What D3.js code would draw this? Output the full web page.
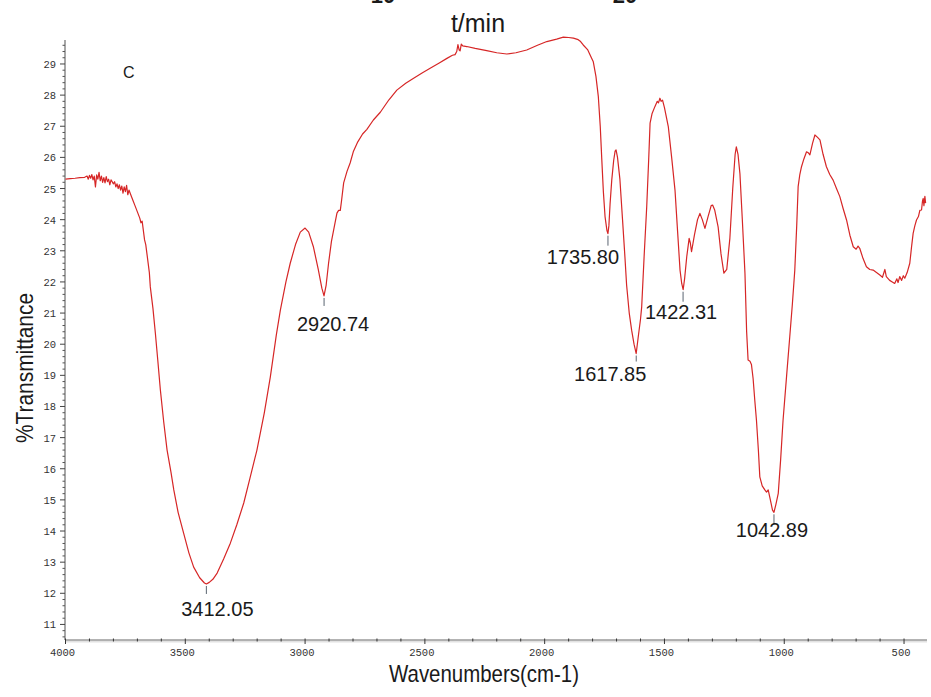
<!DOCTYPE html>
<html>
<head>
<meta charset="utf-8">
<script src="https://cdn.jsdelivr.net/npm/d3@7"></script>
<style>
  html, body { margin: 0; padding: 0; background: #fff; }
  svg { display: block; }
</style>
</head>
<body>
<svg id="chart" width="931" height="697"></svg>
<script>
// spectrum: wavenumber (cm-1) and %T
const wavenumbers = [
  4000, 3980, 3960, 3940, 3920, 3910, 3905, 3900, 3895, 3890, 3885, 3880, 3875, 3870, 3865, 3860,
  3855, 3850, 3845, 3840, 3835, 3830, 3825, 3820, 3815, 3810, 3800, 3795, 3790, 3785, 3780, 3775,
  3770, 3765, 3760, 3755, 3750, 3745, 3740, 3735, 3730, 3720, 3710, 3700, 3690, 3685, 3680, 3670,
  3665, 3660, 3650, 3646, 3635, 3625, 3615, 3604, 3590, 3576, 3560, 3548, 3530, 3507, 3485, 3465,
  3440, 3420, 3412, 3400, 3385, 3367, 3340, 3312, 3285, 3256, 3230, 3201, 3170, 3145, 3120, 3103,
  3080, 3062, 3040, 3020, 3000, 2985, 2965, 2945, 2930, 2921, 2912, 2902, 2890, 2875, 2867, 2860,
  2853, 2848, 2839, 2825, 2812, 2798, 2780, 2760, 2742, 2715, 2686, 2650, 2617, 2580, 2547, 2510,
  2478, 2440, 2408, 2385, 2374, 2367, 2362, 2357, 2353, 2348, 2342, 2325, 2290, 2242, 2200, 2158,
  2120, 2075, 2030, 1991, 1950, 1922, 1900, 1880, 1860, 1850, 1839, 1820, 1805, 1797, 1786, 1776,
  1768, 1762, 1755, 1748, 1740, 1736, 1732, 1727, 1720, 1712, 1706, 1702, 1696, 1686, 1675, 1665,
  1658, 1647, 1637, 1627, 1618, 1610, 1600, 1595, 1585, 1574, 1566, 1560, 1552, 1540, 1530, 1525,
  1519, 1514, 1508, 1500, 1484, 1470, 1456, 1445, 1435, 1428, 1422, 1416, 1407, 1397, 1392, 1387,
  1375, 1362, 1352, 1342, 1331, 1318, 1305, 1299, 1290, 1276, 1264, 1252, 1240, 1227, 1215, 1205,
  1200, 1193, 1185, 1175, 1164, 1157, 1151, 1143, 1137, 1130, 1123, 1116, 1108, 1102, 1092, 1081,
  1074, 1067, 1058, 1049, 1043, 1035, 1025, 1015, 1005, 990, 977, 966, 956, 948, 942, 935,
  928, 918, 907, 900, 893, 882, 872, 862, 851, 838, 824, 810, 796, 782, 768, 754,
  740, 726, 712, 700, 692, 685, 671, 657, 643, 629, 615, 601, 590, 580, 574, 560,
  549, 539, 530, 525, 518, 510, 503, 497, 487, 476, 469, 462, 455, 448, 440, 434,
  427, 423, 420, 417, 413, 410
];
const transmittance = [
  25.30, 25.32, 25.33, 25.35, 25.36, 25.40, 25.30, 25.42, 25.33, 25.45, 25.28, 25.40, 25.05, 25.44, 25.30, 25.52,
  25.25, 25.40, 25.20, 25.35, 25.18, 25.38, 25.22, 25.30, 25.12, 25.28, 25.15, 25.22, 25.05, 25.15, 25.00, 25.12,
  24.95, 25.08, 24.85, 25.05, 24.90, 25.10, 24.80, 24.95, 24.85, 24.65, 24.45, 24.25, 24.05, 23.90, 23.95, 23.35,
  23.20, 22.90, 22.30, 21.84, 21.15, 20.36, 19.50, 18.53, 17.50, 16.60, 15.90, 15.32, 14.60, 13.93, 13.30, 12.84,
  12.50, 12.33, 12.30, 12.35, 12.45, 12.65, 13.10, 13.61, 14.20, 14.90, 15.70, 16.60, 17.80, 18.95, 20.30, 21.10,
  22.00, 22.60, 23.20, 23.60, 23.73, 23.60, 23.12, 22.40, 21.80, 21.55, 21.90, 22.60, 23.30, 23.90, 24.21, 24.30,
  24.30, 24.60, 25.18, 25.55, 25.82, 26.20, 26.50, 26.75, 26.90, 27.20, 27.45, 27.85, 28.16, 28.38, 28.54, 28.72,
  28.86, 29.03, 29.18, 29.28, 29.30, 29.40, 29.62, 29.45, 29.42, 29.64, 29.58, 29.56, 29.50, 29.43, 29.36, 29.32,
  29.36, 29.45, 29.60, 29.72, 29.80, 29.86, 29.85, 29.83, 29.78, 29.72, 29.61, 29.45, 29.20, 29.07, 28.60, 27.95,
  27.00, 26.00, 24.90, 24.10, 23.65, 23.55, 23.80, 24.50, 25.27, 25.90, 26.20, 26.24, 26.00, 25.30, 24.00, 22.80,
  21.90, 21.00, 20.45, 20.00, 19.70, 20.20, 20.80, 21.20, 22.80, 24.42, 25.90, 27.10, 27.40, 27.63, 27.80, 27.75,
  27.90, 27.80, 27.84, 27.60, 26.99, 26.00, 24.95, 23.60, 22.38, 21.95, 21.75, 22.10, 22.81, 23.40, 23.25, 22.97,
  23.50, 24.00, 24.20, 24.00, 23.72, 24.10, 24.45, 24.47, 24.30, 23.77, 22.90, 22.28, 22.40, 23.40, 25.00, 26.10,
  26.34, 26.10, 25.48, 24.00, 22.28, 20.40, 19.49, 19.45, 19.35, 18.90, 18.20, 17.56, 16.60, 15.74, 15.45, 15.32,
  15.25, 15.32, 15.00, 14.67, 14.60, 14.85, 15.21, 16.30, 17.56, 19.00, 20.24, 21.30, 22.38, 23.80, 25.06, 25.45,
  25.70, 25.95, 26.18, 26.15, 26.08, 26.45, 26.72, 26.65, 26.56, 26.10, 25.70, 25.45, 25.27, 25.00, 24.74, 24.35,
  23.99, 23.50, 23.13, 23.05, 23.15, 23.08, 22.75, 22.49, 22.40, 22.38, 22.30, 22.22, 22.15, 22.40, 22.17, 22.05,
  22.00, 21.95, 22.10, 21.98, 22.17, 22.05, 22.20, 22.12, 22.30, 22.60, 23.10, 23.56, 23.80, 23.99, 24.10, 24.30,
  24.31, 24.60, 24.68, 24.45, 24.75, 24.53
];
const peakWavenumbers = [3412.05, 2920.74, 1735.80, 1617.85, 1422.31, 1042.89];
const xMajorTicks = [4000, 3500, 3000, 2500, 2000, 1500, 1000, 500];
const yMajorTicks = [11, 12, 13, 14, 15, 16, 17, 18, 19, 20, 21, 22, 23, 24, 25, 26, 27, 28, 29];

const spectrum = wavenumbers.map((w, i) => ({ w: w, t: transmittance[i] }));

const svg = d3.select("#chart");

const x = d3.scaleLinear().domain([4000, 400]).range([65.5, 928]);
const y = d3.scaleLinear().domain([10.5, 29.77]).range([640, 40]);

// y axis: major + minor ticks on the left
const yMinor = d3.range(10.6, 29.7, 0.2).filter(v => Math.abs(v - Math.round(v)) > 0.05);
const yAxisG = svg.append("g").attr("transform", "translate(65,0)");
yAxisG.append("line")
  .attr("y1", 40).attr("y2", 640)
  .attr("stroke", "#8a8a8a").attr("stroke-width", 1.5);
yAxisG.selectAll("line.minor").data(yMinor).join("line")
  .attr("class", "minor")
  .attr("x1", -2.5).attr("x2", 0)
  .attr("y1", d => y(d)).attr("y2", d => y(d))
  .attr("stroke", "#555");
yAxisG.selectAll("line.major").data(yMajorTicks).join("line")
  .attr("class", "major")
  .attr("x1", -5).attr("x2", 0)
  .attr("y1", d => y(d)).attr("y2", d => y(d))
  .attr("stroke", "#444");
yAxisG.selectAll("text").data(yMajorTicks).join("text")
  .attr("x", -9).attr("y", d => y(d) + 4)
  .attr("text-anchor", "end")
  .style("font-family", "'Liberation Mono', monospace")
  .style("font-size", "10.5px")
  .attr("fill", "#333")
  .text(d => d);

// x axis: line, minor ticks every 100, labelled ticks every 500
const xMinor = d3.range(3900, 400, -100).filter(v => v % 500 !== 0);
const xAxisG = svg.append("g").attr("transform", "translate(0,640)");
xAxisG.append("line")
  .attr("x1", 65).attr("x2", 927).attr("y1", 1.5).attr("y2", 1.5)
  .attr("stroke", "#e2e2e2").attr("stroke-width", 2);
xAxisG.append("line")
  .attr("x1", 65).attr("x2", 927)
  .attr("stroke", "#9a9a9a").attr("stroke-width", 1.6);
xAxisG.selectAll("line.minor").data(xMinor).join("line")
  .attr("class", "minor")
  .attr("x1", d => x(d)).attr("x2", d => x(d))
  .attr("y1", -1.5).attr("y2", 1.5)
  .attr("stroke", "#333");
xAxisG.selectAll("line.major").data(xMajorTicks).join("line")
  .attr("class", "major")
  .attr("x1", d => x(d)).attr("x2", d => x(d))
  .attr("y1", -1.5).attr("y2", 4)
  .attr("stroke", "#333");
xAxisG.selectAll("text").data(xMajorTicks).join("text")
  .attr("x", d => x(d) - 3).attr("y", 16)
  .attr("text-anchor", "middle")
  .style("font-family", "'Liberation Mono', monospace")
  .style("font-size", "10.5px")
  .attr("fill", "#333")
  .text(d => d);

// the spectrum itself
const line = d3.line().x(d => x(d.w)).y(d => y(d.t));
svg.append("path")
  .datum(spectrum)
  .attr("fill", "none")
  .attr("stroke", "#d62626")
  .attr("stroke-width", 1.2)
  .attr("stroke-linejoin", "round")
  .attr("d", line);

// peak picks: small marker under the minimum, label below it
// nudge = [label dx, label baseline dy, marker length] — layout only
const nudge = {
  "3412.05": [11, 32, 8],
  "2920.74": [9, 35, 8],
  "1735.80": [-25, 30, 10],
  "1617.85": [-26, 27, 6],
  "1422.31": [-2, 29, 10],
  "1042.89": [-2, 25, 10]
};
const peaks = peakWavenumbers.map(p => {
  const near = spectrum.filter(d => Math.abs(d.w - p) < 10);
  const low = d3.least(near, d => d.t);
  return { w: p, t: low.t, label: p.toFixed(2) };
});
const pg = svg.append("g");
pg.selectAll("line").data(peaks).join("line")
  .attr("x1", d => x(d.w)).attr("x2", d => x(d.w))
  .attr("y1", d => y(d.t) + 2)
  .attr("y2", d => y(d.t) + 2 + nudge[d.label][2])
  .attr("stroke", "#5a6470").attr("stroke-width", 1);
pg.selectAll("text").data(peaks).join("text")
  .attr("x", d => x(d.w) + nudge[d.label][0])
  .attr("y", d => y(d.t) + nudge[d.label][1])
  .attr("text-anchor", "middle")
  .style("font-family", "Arial, 'Liberation Sans', sans-serif")
  .style("font-size", "20px")
  .attr("fill", "#1a1a1a")
  .text(d => d.label);

// texts
svg.append("text")
  .attr("x", 484).attr("y", 682)
  .attr("text-anchor", "middle")
  .attr("textLength", 190).attr("lengthAdjust", "spacingAndGlyphs")
  .style("font-family", "Arial, 'Liberation Sans', sans-serif")
  .style("font-size", "24px")
  .attr("fill", "#1a1a1a")
  .text("Wavenumbers(cm-1)");

svg.append("text")
  .attr("transform", "translate(33,368) rotate(-90)")
  .attr("text-anchor", "middle")
  .attr("textLength", 150).attr("lengthAdjust", "spacingAndGlyphs")
  .style("font-family", "Arial, 'Liberation Sans', sans-serif")
  .style("font-size", "24px")
  .attr("fill", "#1a1a1a")
  .text("%Transmittance");

svg.append("text")
  .attr("x", 478).attr("y", 32)
  .attr("text-anchor", "middle")
  .style("font-family", "Arial, 'Liberation Sans', sans-serif")
  .style("font-size", "25px")
  .attr("fill", "#1a1a1a")
  .text("t/min");

// numbers cut off at the top edge of the picture
svg.selectAll("text.cut").data([["10", 383], ["20", 625]]).join("text")
  .attr("class", "cut")
  .attr("x", d => d[1]).attr("y", 3)
  .attr("text-anchor", "middle")
  .style("font-family", "Arial, 'Liberation Sans', sans-serif")
  .style("font-size", "22px")
  .style("font-weight", "bold")
  .attr("fill", "#1a1a1a")
  .text(d => d[0]);

svg.append("text")
  .attr("x", 123).attr("y", 78)
  .style("font-family", "Arial, 'Liberation Sans', sans-serif")
  .style("font-size", "16px")
  .attr("fill", "#1a1a1a")
  .text("C");
</script>
</body>
</html>
